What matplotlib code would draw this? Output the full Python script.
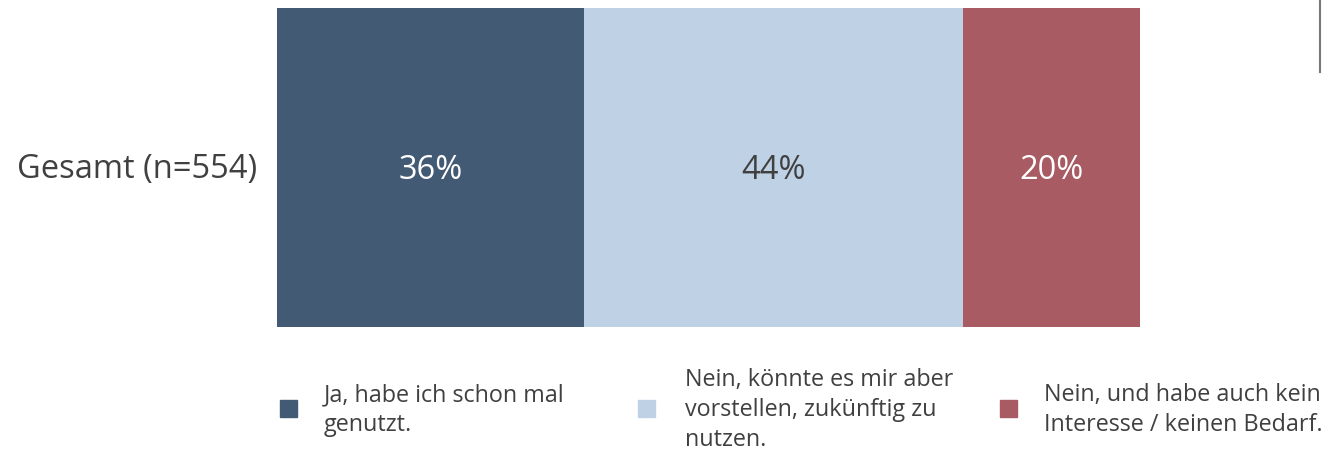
import matplotlib
matplotlib.use("Agg")
from matplotlib import pyplot as plt
from matplotlib.patches import Rectangle
from matplotlib.lines import Line2D

plt.rcParams['font.family'] = ['Open Sans', 'DejaVu Sans']

# data (shares, labels shown rounded)
category = "Gesamt (n=554)"
values = [35.6, 43.9, 20.5]
labels = ["Ja, habe ich schon mal\ngenutzt.",
          "Nein, könnte es mir aber\nvorstellen, zukünftig zu\nnutzen.",
          "Nein, und habe auch kein\nInteresse / keinen Bedarf."]
colors = ["#435A75", "#BFD1E5", "#A85B62"]
text_colors = ["white", "#404040", "white"]

W, H = 1325, 453
fig = plt.figure(figsize=(W / 100, H / 100), dpi=100)
ax = fig.add_axes([277 / W, 1 - 327 / H, 863 / W, 319 / H])

left = 0
for v, c, tc in zip(values, colors, text_colors):
    ax.barh(0, v, left=left, height=1.0, color=c, edgecolor='none')
    ax.text(left + v / 2, -0.01, f"{round(v)}%", ha='center', va='center',
            color=tc, fontsize=23.5)
    left += v

ax.set_xlim(0, sum(values))
ax.set_ylim(-0.5, 0.5)
ax.axis('off')

fig.text(257 / W, 1 - 170 / H, category, ha='right', va='center',
         fontsize=23.5, color='#404040')

# legend
sq = 17
legend_x = [280, 638, 1000]
text_x = [324, 685, 1044]
for lx, tx, lab, c in zip(legend_x, text_x, labels, colors):
    fig.patches.append(Rectangle((lx / W, 1 - (408 + sq / 2) / H), sq / W, sq / H,
                                 transform=fig.transFigure, color=c))
    fig.text(tx / W, 1 - 410 / H, lab, ha='left', va='center',
             fontsize=16.8, color='#404040', linespacing=1.33)

# thin gray line at top right edge
fig.lines.append(Line2D([1320 / W, 1320 / W], [1, 1 - 72 / H],
                        transform=fig.transFigure, color='#777777', lw=1.5))

fig.savefig("out.png", dpi=100)
